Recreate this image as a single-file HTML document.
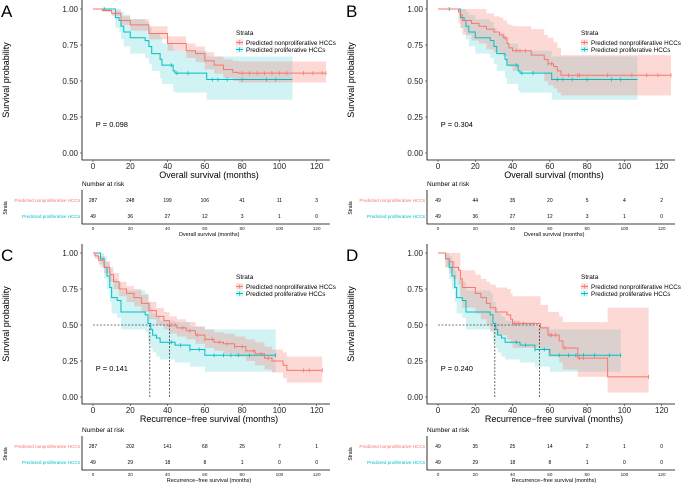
<!DOCTYPE html>
<html><head><meta charset="utf-8"><style>
html,body{margin:0;padding:0;background:#fff;}
svg{display:block;font-family:"Liberation Sans",Arial,sans-serif;}
</style></head><body>
<svg id="fig" width="685" height="484" viewBox="0 0 685 484" xmlns="http://www.w3.org/2000/svg"></svg>
<script>
// ---- Data (times in months, survival probability) ----
const xTicks = [0,20,40,60,80,100,120];
const yTicks = [0,0.25,0.5,0.75,1];
const yTickLabels = ["0.00","0.25","0.50","0.75","1.00"];
const groupNames = ["Predicted nonproliferative HCCs","Predicted proliferative HCCs"];

// Panel A (OS, all)
const aRedT = [0,5,10,15,20,30,40,50,55,60,65,70,75,78];
const aRedS = [1,0.99,0.97,0.92,0.89,0.83,0.76,0.71,0.69,0.64,0.61,0.58,0.56,0.555];
const aRedL = [1,0.98,0.95,0.89,0.85,0.79,0.71,0.66,0.63,0.58,0.55,0.52,0.50,0.49];
const aRedU = [1,1,0.99,0.95,0.93,0.88,0.81,0.76,0.74,0.70,0.67,0.65,0.64,0.635];
const aRedEnd = 125;
const aRedC = [80,84,88,92,96,100,104,113,118,123,125];
const aRedN = [287,248,199,106,41,11,3];
const tealT = [0,12,14,15,16.5,20,28,30,31.5,36,37,43,44,61];
const tealS = [1,0.94,0.92,0.88,0.84,0.80,0.78,0.74,0.69,0.65,0.61,0.57,0.555,0.51];
const tealL = [1,0.87,0.84,0.79,0.74,0.69,0.66,0.62,0.57,0.52,0.48,0.43,0.42,0.37];
const tealU = [1,1,1,0.98,0.96,0.93,0.91,0.87,0.83,0.80,0.76,0.72,0.71,0.67];
const tealEnd = 107;
const tealC = [6,42,45,51,64,67,72,80,93,98];
const tealN = [49,36,27,12,3,1,0];

// Panel B (OS, matched)
const bRedT = [0,11,12,13,18,22,26,30,33,35,37,38,40,50,57,59,62,64,66];
const bRedS = [1,0.98,0.96,0.92,0.90,0.88,0.86,0.84,0.82,0.80,0.76,0.73,0.71,0.68,0.65,0.62,0.60,0.57,0.54];
const bRedL = [1,0.90,0.87,0.82,0.78,0.76,0.72,0.70,0.69,0.67,0.62,0.60,0.57,0.56,0.50,0.47,0.45,0.42,0.40];
const bRedU = [1,1,1,1,1,1,0.97,0.95,0.94,0.92,0.90,0.89,0.88,0.86,0.82,0.80,0.77,0.73,0.68];
const bRedEnd = 125;
const bRedC = [36,42,44,47,59,61,70,75,76,91,104,112,118,125];
const bRedN = [49,44,35,20,5,4,2];

// Panel C (RFS, all)
const cRedT = [0,1,3,6,9,11,14,18,22,26,30,34,38,41,45,50,55,60,65,70,76,82,87,92,96,102,104];
const cRedS = [1,0.98,0.95,0.90,0.85,0.80,0.75,0.72,0.69,0.65,0.60,0.56,0.53,0.50,0.48,0.46,0.43,0.40,0.38,0.37,0.35,0.32,0.30,0.27,0.25,0.22,0.185];
const cRedL = [1,0.96,0.92,0.86,0.80,0.75,0.70,0.66,0.63,0.59,0.54,0.50,0.47,0.44,0.42,0.40,0.37,0.34,0.32,0.30,0.28,0.25,0.22,0.19,0.17,0.13,0.10];
const cRedU = [1,1,0.98,0.94,0.90,0.86,0.80,0.77,0.75,0.71,0.66,0.62,0.59,0.56,0.54,0.52,0.49,0.47,0.45,0.44,0.42,0.40,0.38,0.35,0.33,0.31,0.28];
const cRedEnd = 123;
const cRedC = [42,44,48,52,56,60,64,68,72,76,80,86,90,94,113,116,123];
const cRedN = [287,202,141,68,25,7,1];
const tealRT = [0,4,6,7.5,9,10,13,15,28,29.5,31,32,34,36,44,52,60];
const tealRS = [1,0.96,0.90,0.84,0.76,0.69,0.67,0.59,0.57,0.51,0.47,0.43,0.41,0.38,0.36,0.33,0.29];
const tealRL = [1,0.90,0.82,0.75,0.66,0.58,0.55,0.47,0.45,0.38,0.34,0.31,0.28,0.26,0.24,0.21,0.175];
const tealRU = [1,1,0.98,0.94,0.88,0.82,0.80,0.74,0.72,0.66,0.62,0.58,0.56,0.53,0.52,0.49,0.47];
const tealREnd = 98;
const tealRC = [42,47,52,57,65,70,74,78,84,92,98];
const tealRN = [49,29,18,8,1,0,0];

// Panel D (RFS, matched)
const dRedT = [0,4,6,8,11,12,13,20,23,26,28,31,37,39,40,55,59,65,67,75,91];
const dRedS = [1,0.96,0.94,0.90,0.88,0.82,0.76,0.72,0.69,0.65,0.62,0.59,0.57,0.54,0.51,0.48,0.43,0.39,0.34,0.27,0.14];
const dRedL = [1,0.90,0.86,0.82,0.78,0.70,0.62,0.58,0.54,0.50,0.46,0.43,0.40,0.37,0.34,0.33,0.28,0.24,0.19,0.14,0.03];
const dRedU = [1,1,1,1,1,0.88,0.88,0.85,0.82,0.80,0.78,0.76,0.75,0.72,0.70,0.64,0.59,0.56,0.52,0.52,0.62];
const dRedEnd = 113;
const dRedC = [41,43,46,60,61,63,68,76,78,113];
const dRedN = [49,35,25,14,2,1,0];
const dTealN = [49,29,18,8,1,0,0];

const medC = [41,30.5];
const medD = [54.5,30.5];

const RED = "#F8766D", TEAL = "#00BFC4";
const svg = document.getElementById('fig');
const NS = "http://www.w3.org/2000/svg";
function mk(tag, attrs, parent){
  const e = document.createElementNS(NS, tag);
  for (const k in attrs) e.setAttribute(k, attrs[k]);
  (parent||svg).appendChild(e);
  return e;
}
function txt(x,y,s,size,anchor,fill,parent){
  const t = mk('text',{x:x,y:y,'font-size':size,'text-anchor':anchor||'start',fill:fill||'#000'},parent);
  t.textContent = s;
  return t;
}
function stepPath(T,S,end,xs,ys){
  let d = "M"+xs(T[0])+","+ys(S[0]);
  for (let i=1;i<T.length;i++){ d += " H"+xs(T[i])+" V"+ys(S[i]); }
  d += " H"+xs(end);
  return d;
}
function bandPath(T,L,U,end,xs,ys){
  let d = stepPath(T,U,end,xs,ys);
  d += " V"+ys(L[L.length-1]);
  for (let i=T.length-1;i>=1;i--){ d += " H"+xs(T[i])+" V"+ys(L[i-1]); }
  d += " H"+xs(T[0])+" Z";
  return d;
}
function valAt(T,S,t){ let v=S[0]; for(let i=0;i<T.length;i++){ if(T[i]<=t) v=S[i]; } return v; }

function panel(ox, oy, letter, xTitle, pText, red, teal, med){
  const g = mk('g',{});
  
  
  const xs = t => ox+93+t*1.864;
  const ys = s => oy+9+(1-s)*144;
  const lt = txt(ox+1, oy+17, letter, 17, 'start', '#000', g);
   
  const bT = mk('path',{d:bandPath(teal.T,teal.L,teal.U,teal.end,xs,ys),fill:TEAL,'fill-opacity':0.18},g);
   
  const bR = mk('path',{d:bandPath(red.T,red.L,red.U,red.end,xs,ys),fill:RED,'fill-opacity':0.28},g);
   
  if (med){
    const mg = mk('g',{stroke:'#000','stroke-width':0.6,'stroke-dasharray':'2,1.5',fill:'none'},g);
     
    mk('line',{x1:xs(0),y1:ys(0.5),x2:xs(Math.max(...med)),y2:ys(0.5)},mg);
    med.forEach(m=>mk('line',{x1:xs(m),y1:ys(0.5),x2:xs(m),y2:ys(0)},mg));
  }
  [[teal,TEAL,'proliferative'],[red,RED,'nonproliferative']].forEach(([c,col,nm])=>{
    const p = mk('path',{d:stepPath(c.T,c.S,c.end,xs,ys),stroke:col,'stroke-width':1,fill:'none'},g);
     
    c.C.forEach(t=>{
      const v = valAt(c.T,c.S,t);
      const m = mk('line',{x1:xs(t),x2:xs(t),y1:ys(v)-2,y2:ys(v)+2,stroke:col,'stroke-width':0.8},g);
       
    });
  });
  const ax = mk('path',{d:`M${ox+82},${oy} V${oy+160} H${ox+330}`,stroke:'#000','stroke-width':0.8,fill:'none'},g);
   
  yTicks.forEach((v,i)=>{
    mk('line',{x1:ox+80,x2:ox+82,y1:ys(v),y2:ys(v),stroke:'#333','stroke-width':0.6},g);
    const t = txt(ox+78, ys(v)+3, yTickLabels[i], 8, 'end', '#222', g);
     
  });
  xTicks.forEach(v=>{
    mk('line',{x1:xs(v),x2:xs(v),y1:oy+160,y2:oy+162,stroke:'#333','stroke-width':0.6},g);
    const t = txt(xs(v), oy+169, String(v), 8, 'middle', '#222', g);
     
  });
  const xt = txt(ox+209, oy+178, xTitle, 9, 'middle', '#000', g);
   
  const yt = txt(0,0,'Survival probability',9,'middle','#000',g);
  yt.setAttribute('transform',`translate(${ox+9},${oy+80}) rotate(-90)`);
   
  const pv = txt(xs(1.5), oy+127, pText, 7.5, 'start', '#000', g);
   
  const lg = mk('g',{},g);
   
  txt(ox+236, oy+35, 'Strata', 6.5, 'start', '#000', lg);
  [[RED,0.28],[TEAL,0.18]].forEach(([col,op],i)=>{
    const y = oy+39.5+i*7;
    mk('rect',{x:ox+236,y:y,width:7,height:6,fill:col,'fill-opacity':op},lg);
    mk('line',{x1:ox+236,x2:ox+243,y1:y+3,y2:y+3,stroke:col,'stroke-width':1},lg);
    mk('line',{x1:ox+239.5,x2:ox+239.5,y1:y+1,y2:y+5,stroke:col,'stroke-width':0.8},lg);
    const e = txt(ox+246, y+5.3, groupNames[i], 6.3, 'start', '#000', lg);
     
  });
  const ty = oy + (oy>0 ? 2 : 0);
  const rt = mk('g',{},g);
   
  txt(ox+82, ty+186, 'Number at risk', 6.5, 'start', '#000', rt);
  mk('path',{d:`M${ox+82},${ty+190} V${ty+224} H${ox+330}`,stroke:'#000','stroke-width':0.8,fill:'none'},rt);
  [[red.N,RED,200],[teal.N,TEAL,216]].forEach(([N,col,ry],i)=>{
    const l = txt(ox+80, ty+ry+2, groupNames[i], 4.6, 'end', col, rt);
     
    N.forEach((n,j)=>{ txt(xs(xTicks[j]), ty+ry+2, String(n), 5, 'middle', '#000', rt); });
  });
  xTicks.forEach(v=>{ txt(xs(v), ty+230, String(v), 4.6, 'middle', '#222', rt); });
  txt(ox+209, ty+236, xTitle, 5.5, 'middle', '#000', rt);
  const st = txt(0,0,'Strata',5,'middle','#000',rt);
  st.setAttribute('transform',`translate(${ox+7},${ty+208}) rotate(-90)`);
}

const tealOS = {T:tealT,S:tealS,L:tealL,U:tealU,end:tealEnd,C:tealC,N:tealN};
const tealRFS = {T:tealRT,S:tealRS,L:tealRL,U:tealRU,end:tealREnd,C:tealRC,N:tealRN};
panel(0,0,'A','Overall survival (months)','P = 0.098',
  {T:aRedT,S:aRedS,L:aRedL,U:aRedU,end:aRedEnd,C:aRedC,N:aRedN}, tealOS, null);
panel(345,0,'B','Overall survival (months)','P = 0.304',
  {T:bRedT,S:bRedS,L:bRedL,U:bRedU,end:bRedEnd,C:bRedC,N:bRedN}, tealOS, null);
panel(0,244,'C','Recurrence\u2212free survival (months)','P = 0.141',
  {T:cRedT,S:cRedS,L:cRedL,U:cRedU,end:cRedEnd,C:cRedC,N:cRedN}, tealRFS, medC);
panel(345,244,'D','Recurrence\u2212free survival (months)','P = 0.240',
  {T:dRedT,S:dRedS,L:dRedL,U:dRedU,end:dRedEnd,C:dRedC,N:dRedN}, {T:tealRT,S:tealRS,L:tealRL,U:tealRU,end:tealREnd,C:tealRC,N:dTealN}, medD);
</script>
</body></html>
